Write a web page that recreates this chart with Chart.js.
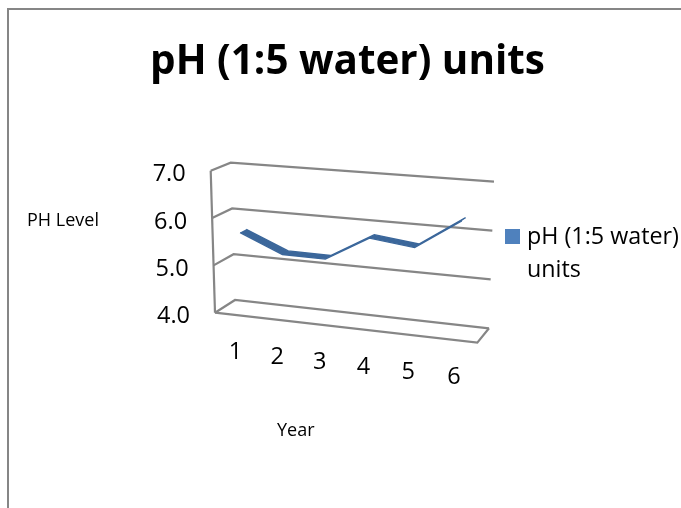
<!DOCTYPE html>
<html>
<head>
<meta charset="utf-8">
<title>pH (1:5 water) units</title>
<script src="https://cdn.jsdelivr.net/npm/chart.js@4"></script>
<style>
    html, body { margin: 0; padding: 0; background: #fff; overflow: hidden; }
    #frame { position: absolute; left: 7px; top: 8px; width: 700px; height: 600px; border-left: 2px solid #868686; border-top: 2px solid #868686; }
    #pHChart { position: absolute; left: 0; top: 0; }
</style>
</head>
<body>
<div id="frame"></div>
<canvas id="pHChart" width="681" height="508"></canvas>
<script>
const years = [1, 2, 3, 4, 5, 6];
const phValues = [5.66, 5.28, 5.27, 5.79, 5.68, 6.30];
const yTicks = [4, 5, 6, 7];
const seriesName = ["pH (1:5 water)", "units"];
const titleText = "pH (1:5 water) units";
const yAxisLabel = "PH Level";
const xAxisLabel = "Year";

const xMin = 0.5, xMax = 6.5;
const font = "'Open Sans', sans-serif";
const gray = "#868686";
const ribbonColor = "#3b679b";

// corners of the 3D box on the page: z 0 is the back wall, z 1 the front
const back = { bl: [235, 300], br: [489, 328.3], tl: [230.7, 162.7], tr: [494, 181.7] };
const front = { bl: [215, 312.7], br: [477.3, 342.7], tl: [210.7, 170.7], tr: [483, 191.2] };

function lerp(a, b, t) {
    return a + (b - a) * t;
}

function bilerp(face, u, v, i) {
    return lerp(lerp(face.bl[i], face.br[i], u), lerp(face.tl[i], face.tr[i], u), v);
}

// reads 0..1 positions off the chart scales, gives a point on the page
function project(chart, xVal, yVal, z) {
    const xs = chart.scales.x, ys = chart.scales.y;
    const d = xs.getDecimalForPixel(xs.getPixelForValue(xVal));
    const v = ys.getDecimalForPixel(ys.getPixelForValue(yVal));
    const u = d - 0.07 * d * (1 - d);
    return {
        x: lerp(bilerp(back, u, v, 0), bilerp(front, u, v, 0), z),
        y: lerp(bilerp(back, u, v, 1), bilerp(front, u, v, 1), z)
    };
}

const ribbonFront = years.map((yr, i) => ({ x: yr, y: phValues[i], z: 0.66 }));
const ribbonBack = years.map((yr, i) => ({ x: yr, y: phValues[i], z: 0.34 }));

function greyLine(points) {
    return { data: points, borderColor: gray, borderWidth: 2.2, pointRadius: 0, tension: 0, clip: false, fill: false };
}

const frameSets = yTicks.map(v => greyLine([
    { x: xMax, y: v, z: 0 },
    { x: xMin, y: v, z: 0 },
    { x: xMin, y: v, z: 1 }
]));
frameSets.push(greyLine([
    { x: xMin, y: yTicks[0], z: 1 },
    { x: xMax, y: yTicks[0], z: 1 },
    { x: xMax, y: yTicks[0], z: 0 }
]));
frameSets.push(greyLine([
    { x: xMin, y: yTicks[0], z: 1 },
    { x: xMin, y: yTicks[yTicks.length - 1], z: 1 }
]));

const box3d = {
    id: "box3d",
    afterDatasetsUpdate(chart) {
        chart.data.datasets.forEach((ds, i) => {
            chart.getDatasetMeta(i).data.forEach((el, j) => {
                const p = project(chart, ds.data[j].x, ds.data[j].y, ds.data[j].z);
                el.x = p.x;
                el.y = p.y;
            });
        });
    },
    afterDatasetsDraw(chart) {
        const ctx = chart.ctx;
        const f = chart.getDatasetMeta(0).data;
        const b = chart.getDatasetMeta(1).data;
        ctx.save();
        ctx.beginPath();
        f.forEach((el, i) => i ? ctx.lineTo(el.x, el.y) : ctx.moveTo(el.x, el.y));
        for (let i = b.length - 1; i >= 0; i--) ctx.lineTo(b[i].x, b[i].y);
        ctx.closePath();
        ctx.fillStyle = ribbonColor;
        ctx.fill();
        ctx.restore();
    },
    afterDraw(chart) {
        const ctx = chart.ctx;
        ctx.save();
        ctx.fillStyle = "#000";
        ctx.textBaseline = "alphabetic";

        ctx.font = "23.5px " + font;
        ctx.textAlign = "right";
        yTicks.forEach(v => {
            const p = project(chart, xMin, v, 1);
            ctx.fillText(v.toFixed(1), p.x - 25, p.y + 10.5);
        });

        ctx.textAlign = "center";
        years.forEach(yr => {
            const p = project(chart, yr, yTicks[0], 1);
            ctx.fillText(String(yr), p.x, p.y + 44);
        });

        ctx.font = "18px " + font;
        ctx.textAlign = "left";
        ctx.fillText(yAxisLabel, 27, 226);
        ctx.fillText(xAxisLabel, 277, 436);

        ctx.fillStyle = "#4f81bd";
        ctx.fillRect(505, 229, 15, 15);
        ctx.fillStyle = "#000";
        ctx.font = "23.3px " + font;
        ctx.fillText(seriesName[0], 527, 244);
        ctx.fillText(seriesName[1], 527, 277);
        ctx.restore();
    }
};

new Chart(document.getElementById("pHChart").getContext("2d"), {
    type: "line",
    data: {
        datasets: [
            { data: ribbonFront, borderColor: ribbonColor, borderWidth: 1.3, pointRadius: 0, tension: 0, clip: false, fill: false },
            { data: ribbonBack, borderColor: ribbonColor, borderWidth: 1.3, pointRadius: 0, tension: 0, clip: false, fill: false },
            ...frameSets
        ]
    },
    options: {
        responsive: false,
        animation: false,
        layout: { padding: { left: 14 } },
        scales: {
            x: { type: "linear", min: xMin, max: xMax, display: false },
            y: { min: yTicks[0], max: yTicks[yTicks.length - 1], display: false }
        },
        plugins: {
            legend: { display: false },
            tooltip: { enabled: false },
            title: {
                display: true,
                text: titleText,
                color: "#000",
                font: { family: font, size: 40.4, weight: "bold" },
                padding: { top: 38, bottom: 10 }
            }
        }
    },
    plugins: [box3d]
});
</script>
</body>
</html>
